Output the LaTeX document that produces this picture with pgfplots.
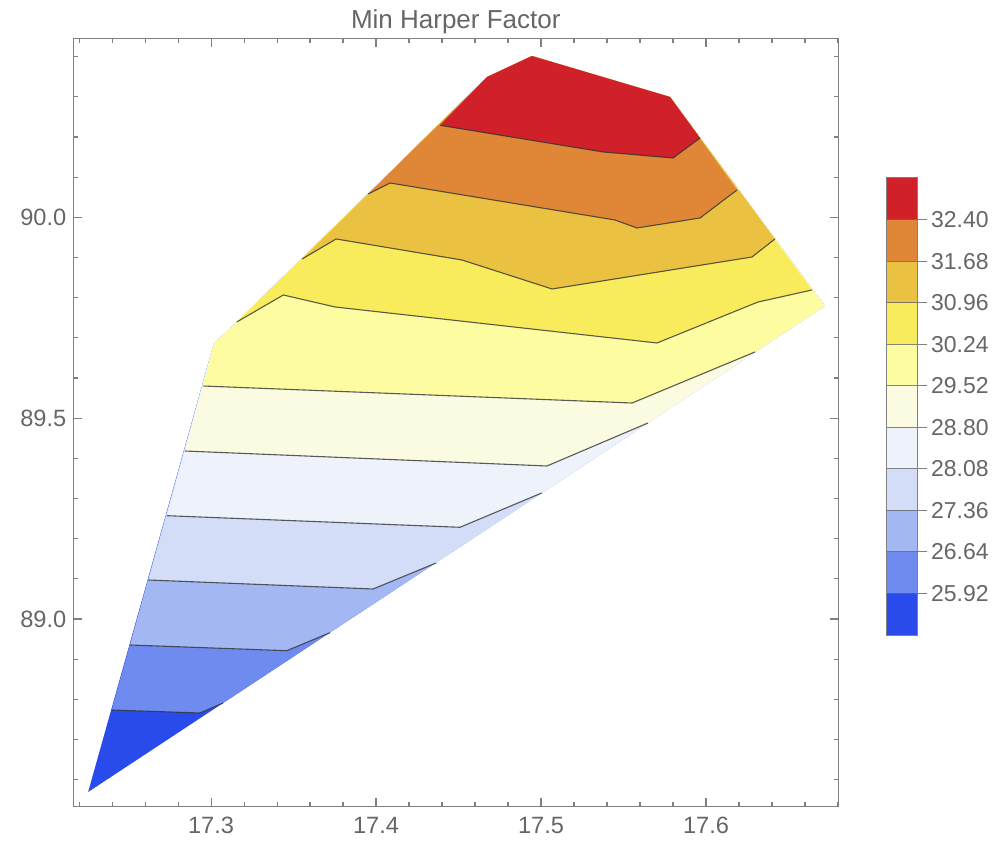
\documentclass[border=0pt]{standalone}
\usepackage{pgfplots}
\pgfplotsset{compat=1.18}
\usepackage{fontspec}
\setmainfont{Liberation Sans}

% contour band colours, lowest level first
\definecolor{b1}{RGB}{42,75,235}
\definecolor{b2}{RGB}{111,139,239}
\definecolor{b3}{RGB}{163,183,243}
\definecolor{b4}{RGB}{211,221,248}
\definecolor{b5}{RGB}{238,242,250}
\definecolor{b6}{RGB}{250,251,225}
\definecolor{b7}{RGB}{253,252,160}
\definecolor{b8}{RGB}{248,236,92}
\definecolor{b9}{RGB}{235,193,66}
\definecolor{b10}{RGB}{223,135,54}
\definecolor{b11}{RGB}{208,32,42}
\definecolor{framegray}{RGB}{128,128,128}
\definecolor{labelgray}{RGB}{102,102,102}

\tikzset{cline/.style={draw=black!80, line width=0.55pt, opacity=0.8}}

\begin{document}
\begin{tikzpicture}
\path[use as bounding box] (-36.65pt,-17.65pt) rectangle (460.35pt,403.35pt);

\begin{axis}[
  name=main,
  scale only axis,
  width=382.5pt, height=384.2pt,
  xmin=17.2165, xmax=17.6802,
  ymin=88.5327, ymax=90.4456,
  axis line style={framegray, line width=0.65pt},
  tick style={framegray, line width=0.55pt},
  tick align=inside,
  major tick length=4.3pt,
  minor tick length=2.2pt,
  xtick={17.3,17.4,17.5,17.6},
  minor xtick={17.22,17.24,17.26,17.28,17.32,17.34,17.36,17.38,17.42,17.44,17.46,17.48,17.52,17.54,17.56,17.58,17.62,17.64,17.66,17.68},
  ytick={89.0,89.5,90.0},
  minor ytick={88.6,88.7,88.8,88.9,89.1,89.2,89.3,89.4,89.6,89.7,89.8,89.9,90.1,90.2,90.3,90.4},
  ticklabel style={font=\fontsize{11.8pt}{14pt}\selectfont, text=labelgray},
  xticklabel style={yshift=-1.5pt, /pgf/number format/.cd, fixed, fixed zerofill, precision=1, assume math mode=true},
  yticklabel style={/pgf/number format/.cd, fixed, fixed zerofill, precision=1, assume math mode=true},
  title={Min Harper Factor},
  every axis title shift=0pt,
  title style={font=\fontsize{13pt}{15pt}\selectfont, text=labelgray, at={(0.5,1)}, anchor=south, inner sep=0pt, yshift=1.8pt},
  axis on top,
]
% hull of the sampled region (lowest band)
\addplot[fill=b1, draw=none] coordinates {
  (17.2255,88.5693) (17.6721,89.7792) (17.5782,90.2995) (17.4945,90.4015)
  (17.4673,90.3493) (17.3156,89.7394) (17.3018,89.6871)};
% regions above each contour level
\addplot[fill=b2, draw=none] coordinates {
  (17.2398,88.7735) (17.2933,88.7660) (17.3073,88.7909)
  (17.6721,89.7792) (17.5782,90.2995) (17.4945,90.4015) (17.4673,90.3493) (17.3156,89.7394) (17.3018,89.6871)};
\addplot[fill=b3, draw=none] coordinates {
  (17.2509,88.9353) (17.3459,88.9211) (17.3721,88.9659)
  (17.6721,89.7792) (17.5782,90.2995) (17.4945,90.4015) (17.4673,90.3493) (17.3156,89.7394) (17.3018,89.6871)};
\addplot[fill=b4, draw=none] coordinates {
  (17.2620,89.0971) (17.3982,89.0747) (17.4364,89.1394)
  (17.6721,89.7792) (17.5782,90.2995) (17.4945,90.4015) (17.4673,90.3493) (17.3156,89.7394) (17.3018,89.6871)};
\addplot[fill=b5, draw=none] coordinates {
  (17.2732,89.2572) (17.4509,89.2283) (17.5004,89.3137)
  (17.6721,89.7792) (17.5782,90.2995) (17.4945,90.4015) (17.4673,90.3493) (17.3156,89.7394) (17.3018,89.6871)};
\addplot[fill=b6, draw=none] coordinates {
  (17.2842,89.4182) (17.5036,89.3809) (17.5648,89.4879)
  (17.6721,89.7792) (17.5782,90.2995) (17.4945,90.4015) (17.4673,90.3493) (17.3156,89.7394) (17.3018,89.6871)};
\addplot[fill=b7, draw=none] coordinates {
  (17.2953,89.5800) (17.5552,89.5377) (17.6297,89.6647)
  (17.6721,89.7792) (17.5782,90.2995) (17.4945,90.4015) (17.4673,90.3493) (17.3156,89.7394) (17.3018,89.6871)};
\addplot[fill=b8, draw=none] coordinates {
  (17.3156,89.7394) (17.3438,89.8066) (17.3752,89.7767) (17.5703,89.6871) (17.6315,89.7891) (17.6642,89.8190)
  (17.5782,90.2995) (17.4945,90.4015) (17.4673,90.3493)};
\addplot[fill=b9, draw=none] coordinates {
  (17.3552,89.8962) (17.3758,89.9460) (17.4521,89.8937) (17.5067,89.8215) (17.6279,89.9012) (17.6418,89.9460)
  (17.5782,90.2995) (17.4945,90.4015) (17.4673,90.3493)};
\addplot[fill=b10, draw=none] coordinates {
  (17.3952,90.0580) (17.4085,90.0854) (17.5448,89.9933) (17.5582,89.9734) (17.5964,89.9983) (17.6188,90.0680)
  (17.5782,90.2995) (17.4945,90.4015) (17.4673,90.3493)};
\addplot[fill=b11, draw=none] coordinates {
  (17.4388,90.2290) (17.5376,90.1626) (17.5800,90.1476) (17.5964,90.1974)
  (17.5782,90.2995) (17.4945,90.4015) (17.4673,90.3493)};
% contour lines
\addplot[cline] coordinates {(17.2398,88.7735) (17.2933,88.7660) (17.3073,88.7909)};
\addplot[cline] coordinates {(17.2509,88.9353) (17.3459,88.9211) (17.3721,88.9659)};
\addplot[cline] coordinates {(17.2620,89.0971) (17.3982,89.0747) (17.4364,89.1394)};
\addplot[cline] coordinates {(17.2732,89.2572) (17.4509,89.2283) (17.5004,89.3137)};
\addplot[cline] coordinates {(17.2842,89.4182) (17.5036,89.3809) (17.5648,89.4879)};
\addplot[cline] coordinates {(17.2953,89.5800) (17.5552,89.5377) (17.6297,89.6647)};
\addplot[cline] coordinates {(17.3156,89.7394) (17.3438,89.8066) (17.3752,89.7767) (17.5703,89.6871) (17.6315,89.7891) (17.6642,89.8190)};
\addplot[cline] coordinates {(17.3552,89.8962) (17.3758,89.9460) (17.4521,89.8937) (17.5067,89.8215) (17.6279,89.9012) (17.6418,89.9460)};
\addplot[cline] coordinates {(17.3952,90.0580) (17.4085,90.0854) (17.5448,89.9933) (17.5582,89.9734) (17.5964,89.9983) (17.6188,90.0680)};
\addplot[cline] coordinates {(17.4388,90.2290) (17.5376,90.1626) (17.5800,90.1476) (17.5964,90.1974)};
\end{axis}

% colour legend
\begin{axis}[
  at={(406.35pt,85.85pt)}, anchor=south west,
  scale only axis,
  width=15.5pt, height=228.5pt,
  xmin=0, xmax=1, ymin=25.20, ymax=33.12,
  xtick=\empty,
  ytick={25.92,26.64,27.36,28.08,28.80,29.52,30.24,30.96,31.68,32.40},
  yticklabels={25.92,26.64,27.36,28.08,28.80,29.52,30.24,30.96,31.68,32.40},
  ytick pos=right,
  tick align=outside,
  major tick length=5pt,
  tick style={framegray, line width=0.5pt},
  yticklabel style={font=\fontsize{11.5pt}{14pt}\selectfont, text=labelgray, xshift=-1.5pt},
  ymajorgrids,
  grid style={black!60, line width=0.5pt, opacity=0.8},
  axis line style={framegray, line width=0.5pt},
  axis on top,
]
\addplot[fill=b1, draw=none] coordinates {(0,25.20) (1,25.20) (1,25.92) (0,25.92)};
\addplot[fill=b2, draw=none] coordinates {(0,25.92) (1,25.92) (1,26.64) (0,26.64)};
\addplot[fill=b3, draw=none] coordinates {(0,26.64) (1,26.64) (1,27.36) (0,27.36)};
\addplot[fill=b4, draw=none] coordinates {(0,27.36) (1,27.36) (1,28.08) (0,28.08)};
\addplot[fill=b5, draw=none] coordinates {(0,28.08) (1,28.08) (1,28.80) (0,28.80)};
\addplot[fill=b6, draw=none] coordinates {(0,28.80) (1,28.80) (1,29.52) (0,29.52)};
\addplot[fill=b7, draw=none] coordinates {(0,29.52) (1,29.52) (1,30.24) (0,30.24)};
\addplot[fill=b8, draw=none] coordinates {(0,30.24) (1,30.24) (1,30.96) (0,30.96)};
\addplot[fill=b9, draw=none] coordinates {(0,30.96) (1,30.96) (1,31.68) (0,31.68)};
\addplot[fill=b10, draw=none] coordinates {(0,31.68) (1,31.68) (1,32.40) (0,32.40)};
\addplot[fill=b11, draw=none] coordinates {(0,32.40) (1,32.40) (1,33.12) (0,33.12)};
\end{axis}
\end{tikzpicture}
\end{document}
